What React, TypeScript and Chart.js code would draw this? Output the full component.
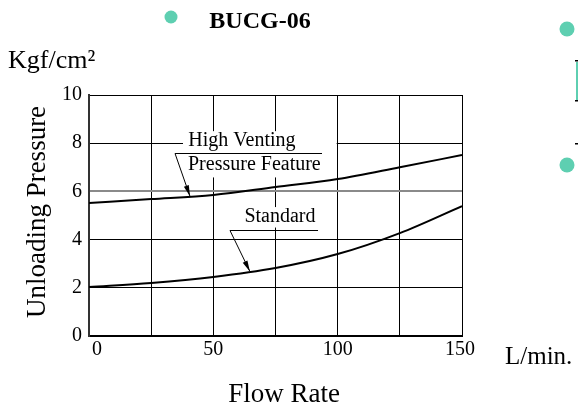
import React, { useEffect, useRef } from "react";
import { Chart, registerables } from "chart.js";

Chart.register(...registerables);

const flowRate = [0, 25, 50, 75, 100, 125, 150];
const highVenting = [5.52, 5.68, 5.85, 6.18, 6.51, 7.0, 7.51];
const standard = [2.03, 2.2, 2.45, 2.82, 3.4, 4.27, 5.39];
const xTickLabels = [0, 50, 100, 150];
const yTickLabels = [0, 2, 4, 6, 8, 10];

const titleText = "BUCG-06";
const yUnit = "Kgf/cm²";
const yTitle = "Unloading Pressure";
const xUnit = "L/min.";
const xTitle = "Flow Rate";
const hvLine1 = "High Venting";
const hvLine2 = "Pressure Feature";
const stdLabel = "Standard";

const SERIF = '"Liberation Serif", "Times New Roman", serif';
const GREEN = "#5ecfb1";

function arrow(ctx: CanvasRenderingContext2D, x1: number, y1: number, x2: number, y2: number) {
  ctx.save();
  ctx.strokeStyle = "#000";
  ctx.fillStyle = "#000";
  ctx.lineWidth = 1;
  ctx.beginPath();
  ctx.moveTo(x1, y1);
  ctx.lineTo(x2, y2);
  ctx.stroke();
  const a = Math.atan2(y2 - y1, x2 - x1);
  const len = 11;
  const w = 2.6;
  ctx.beginPath();
  ctx.moveTo(x2, y2);
  ctx.lineTo(x2 - len * Math.cos(a) + w * Math.sin(a), y2 - len * Math.sin(a) - w * Math.cos(a));
  ctx.lineTo(x2 - len * Math.cos(a) - w * Math.sin(a), y2 - len * Math.sin(a) + w * Math.cos(a));
  ctx.closePath();
  ctx.fill();
  ctx.restore();
}

const decorPlugin = {
  id: "decor",
  beforeDatasetsDraw(chart: any) {
    const { ctx, scales } = chart;
    const X = scales.x, Y = scales.y;
    ctx.save();
    ctx.fillStyle = "#fff";
    const bx1 = X.getPixelForValue(37.8), bx2 = X.getPixelForValue(99.6);
    const by1 = Y.getPixelForValue(8.5), by2 = Y.getPixelForValue(6.58);
    ctx.fillRect(bx1, by1, bx2 - bx1, by2 - by1);
    const sx1 = X.getPixelForValue(62), sx2 = X.getPixelForValue(92);
    const sy1 = Y.getPixelForValue(5.35), sy2 = Y.getPixelForValue(4.5);
    ctx.fillRect(sx1, sy1, sx2 - sx1, sy2 - sy1);
    ctx.restore();
  },
  afterDraw(chart: any) {
    const { ctx, scales } = chart;
    const X = scales.x, Y = scales.y;
    const area = chart.chartArea;
    ctx.save();
    ctx.fillStyle = GREEN;
    [[171, 17, 6.5], [567, 29, 7.5], [567, 165, 7.5]].forEach(([cx, cy, r]) => {
      ctx.beginPath();
      ctx.arc(cx, cy, r, 0, Math.PI * 2);
      ctx.fill();
    });
    ctx.fillRect(576, 62, 2, 38);
    ctx.fillStyle = "#000";
    ctx.fillRect(575, 60, 3, 1.5);
    ctx.fillRect(575, 100, 3, 1.5);
    ctx.fillRect(575, 143, 3, 1.5);

    ctx.fillStyle = "#000";
    ctx.textBaseline = "middle";
    ctx.font = `bold 24px ${SERIF}`;
    ctx.textAlign = "center";
    ctx.fillText(titleText, 260, 22);
    ctx.font = `26px ${SERIF}`;
    ctx.textAlign = "left";
    ctx.fillText(yUnit, 8, 61);
    ctx.font = `25px ${SERIF}`;
    ctx.fillText(xUnit, 505, 357);
    ctx.font = `27px ${SERIF}`;
    ctx.textAlign = "center";
    ctx.fillText(xTitle, 284, 395);
    ctx.save();
    ctx.translate(38, 212);
    ctx.rotate(-Math.PI / 2);
    ctx.fillText(yTitle, 0, 0);
    ctx.restore();

    // x tick labels
    ctx.font = `20px ${SERIF}`;
    xTickLabels.forEach((v, i) => {
      const shift = i === 0 ? 8 : i === xTickLabels.length - 1 ? -2 : 0;
      ctx.fillText(String(v), X.getPixelForValue(v) + shift, area.bottom + 14);
    });

    ctx.font = `20px ${SERIF}`;
    ctx.textAlign = "center";
    ctx.fillText(hvLine1, X.getPixelForValue(61.5), Y.getPixelForValue(8.1));
    ctx.fillText(hvLine2, X.getPixelForValue(66.5), Y.getPixelForValue(7.1));
    ctx.fillText(stdLabel, X.getPixelForValue(76.8), Y.getPixelForValue(4.93));

    ctx.strokeStyle = "#000";
    ctx.lineWidth = 1;
    const uy = Math.round(Y.getPixelForValue(7.6)) + 0.5;
    ctx.beginPath();
    ctx.moveTo(X.getPixelForValue(34.6), uy);
    ctx.lineTo(X.getPixelForValue(93.7), uy);
    ctx.stroke();
    arrow(ctx, X.getPixelForValue(34.6), uy, X.getPixelForValue(40.6), Y.getPixelForValue(5.8));
    const sy = Math.round(Y.getPixelForValue(4.4)) + 0.5;
    ctx.beginPath();
    ctx.moveTo(X.getPixelForValue(56.7), sy);
    ctx.lineTo(X.getPixelForValue(92.1), sy);
    ctx.stroke();
    arrow(ctx, X.getPixelForValue(56.7), sy, X.getPixelForValue(64.7), Y.getPixelForValue(2.68));
    ctx.restore();
  },
};

export default function App() {
  const ref = useRef<HTMLCanvasElement | null>(null);
  useEffect(() => {
    document.body.style.margin = "0";
    const canvas = ref.current;
    if (!canvas) return;
    const chart = new Chart(canvas, {
      type: "line",
      data: {
        datasets: [
          {
            label: hvLine1,
            data: flowRate.map((x, i) => ({ x, y: highVenting[i] })),
            borderColor: "#000",
            borderWidth: 2,
            pointRadius: 0,
            cubicInterpolationMode: "monotone",
            fill: false,
          },
          {
            label: stdLabel,
            data: flowRate.map((x, i) => ({ x, y: standard[i] })),
            borderColor: "#000",
            borderWidth: 2,
            pointRadius: 0,
            cubicInterpolationMode: "monotone",
            fill: false,
          },
        ],
      },
      options: {
        animation: false,
        responsive: false,
        devicePixelRatio: 1,
        layout: { padding: { top: 95, right: 116, left: 0, bottom: 0 } },
        plugins: { legend: { display: false }, tooltip: { enabled: false }, title: { display: false } },
        scales: {
          x: {
            type: "linear",
            min: 0,
            max: 150,
            afterFit: (s: any) => { s.height = 73; },
            afterBuildTicks: (s: any) => {
              s.ticks = flowRate.map((v) => ({ value: v }));
            },
            ticks: {
              display: false,
              autoSkip: false,
            },
            grid: { color: "#000", lineWidth: 1, drawTicks: false },
            border: { color: "#000", width: 2 },
          },
          y: {
            type: "linear",
            min: 0,
            max: 10,
            afterFit: (s: any) => { s.width = 89; },
            afterBuildTicks: (s: any) => {
              s.ticks = yTickLabels.map((v) => ({ value: v }));
            },
            ticks: {
              padding: 7,
              color: "#000",
              font: { family: SERIF, size: 20 },
            },
            grid: {
              color: (c: any) => (c.tick && c.tick.value === 6 ? "#8a8a8a" : "#000"),
              lineWidth: (c: any) => (c.tick && c.tick.value === 6 ? 2 : 1),
              drawTicks: false,
            },
            border: { color: "#333", width: 2 },
          },
        },
      },
      plugins: [decorPlugin],
    } as any);
    return () => chart.destroy();
  }, []);
  return (
    <div style={{ position: "absolute", left: 0, top: 0, width: 578, height: 409 }}>
      <canvas ref={ref} width={578} height={409} style={{ width: 578, height: 409, display: "block" }} />
    </div>
  );
}
